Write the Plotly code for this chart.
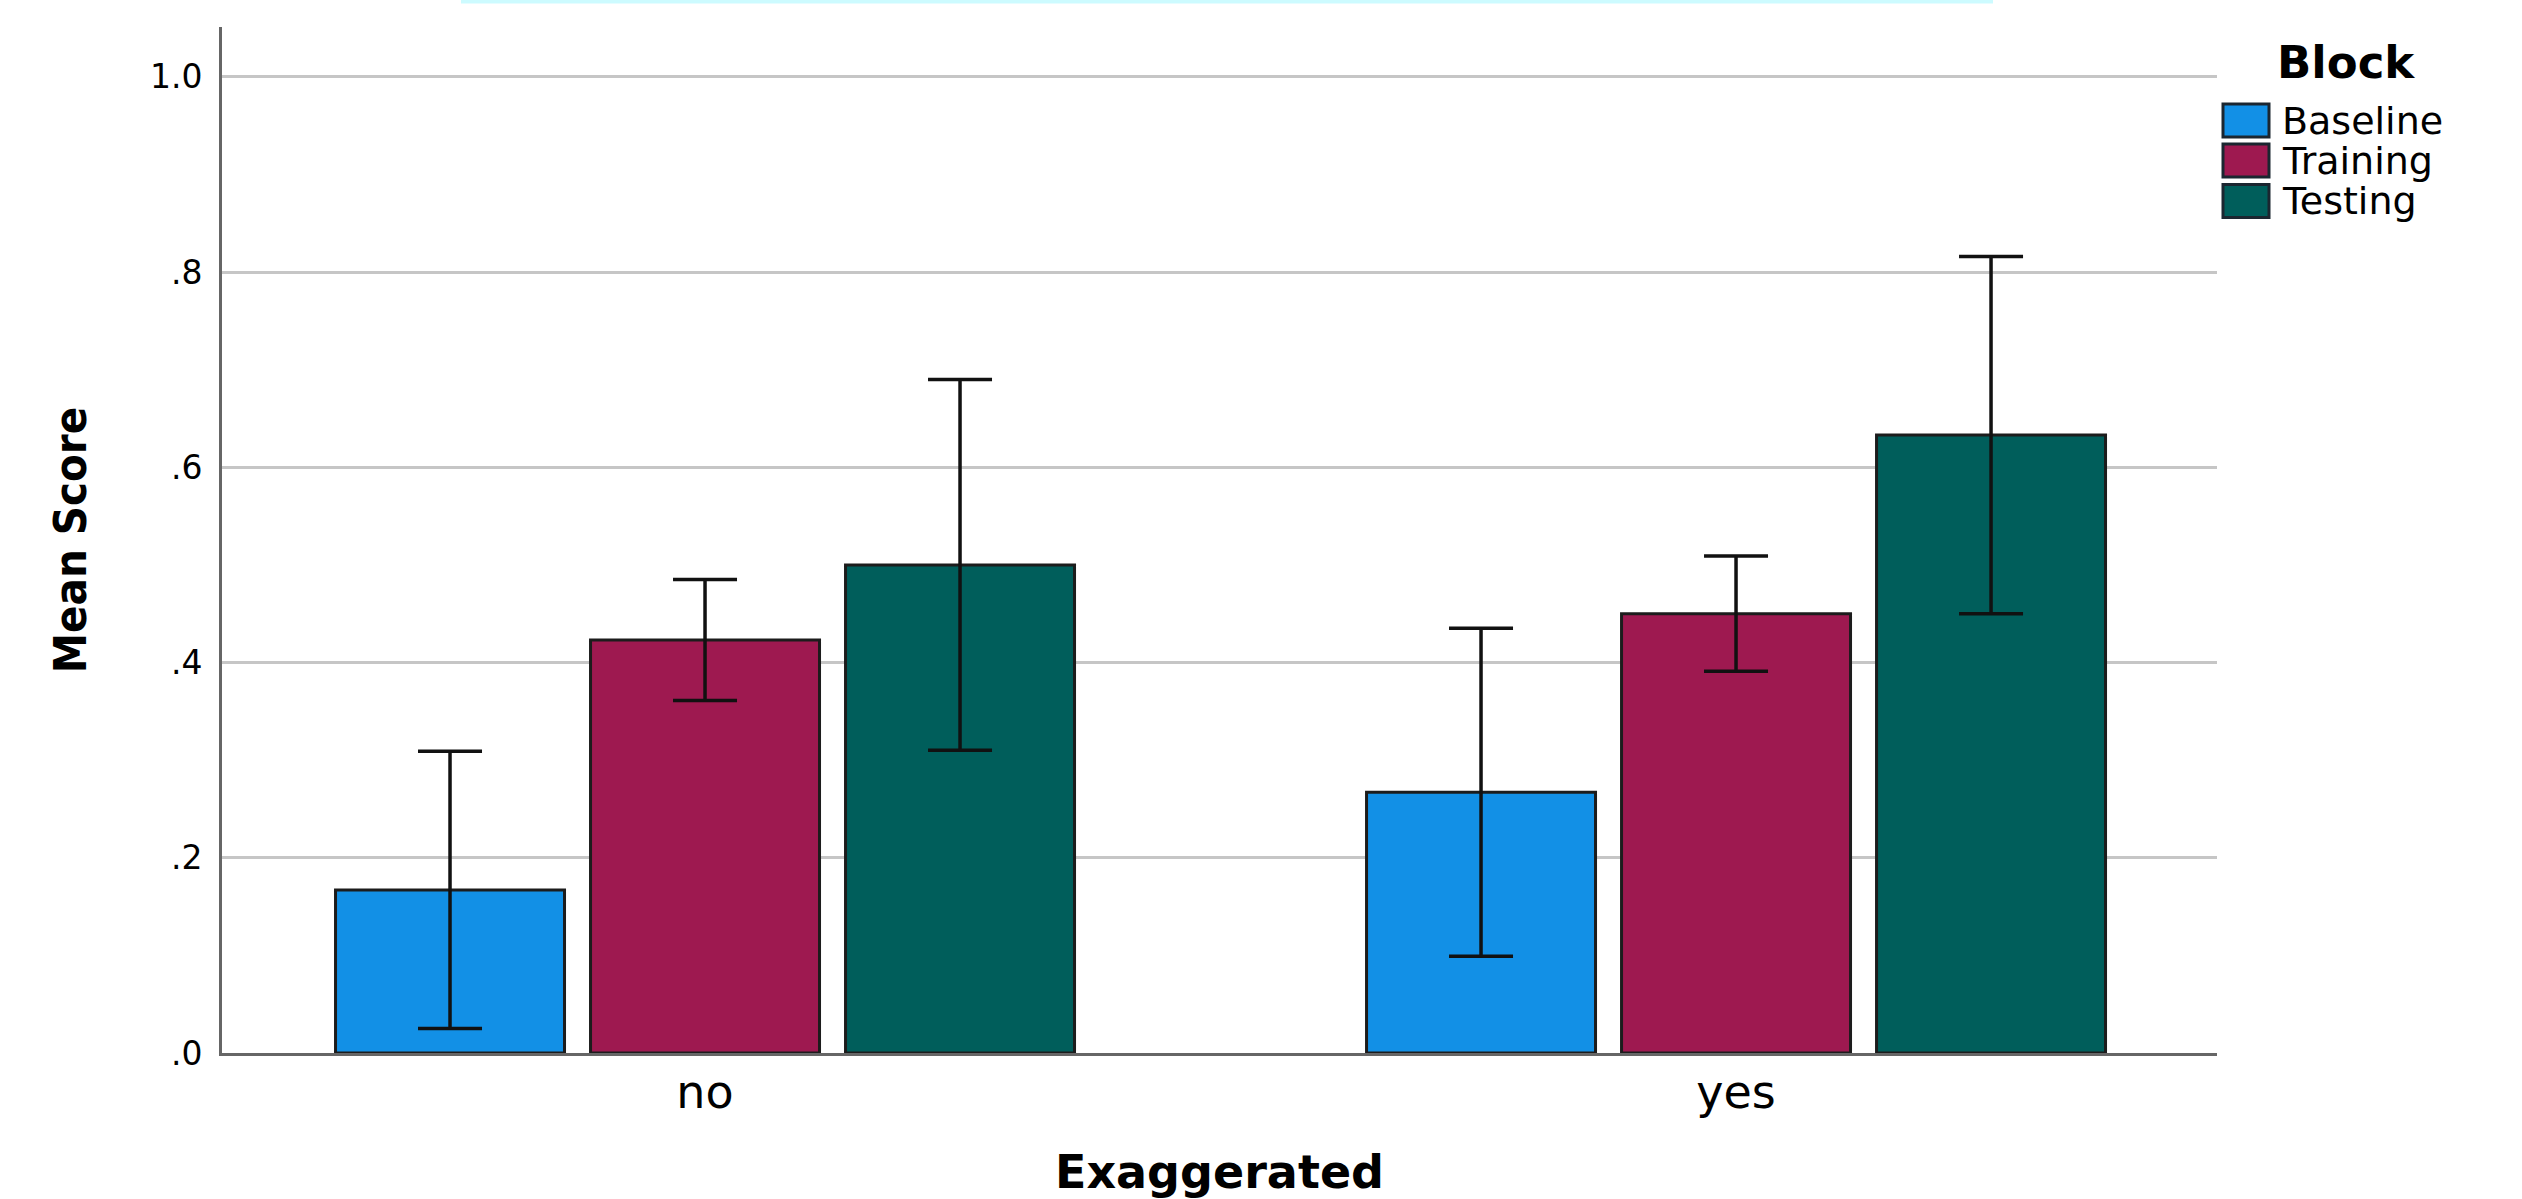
import plotly.graph_objects as go

# ---- data ----
categories = ["no", "yes"]
blocks = ["Baseline", "Training", "Testing"]
baseline_mean = [0.167, 0.267]
baseline_err = [0.142, 0.168]
training_mean = [0.423, 0.450]
training_err = [0.062, 0.059]
testing_mean = [0.500, 0.633]
testing_err = [0.190, 0.183]
colors = ["#1290e6", "#9e1950", "#005e5b"]
y_tickvals = [0, 0.2, 0.4, 0.6, 0.8, 1.0]
y_ticktext = [".0", ".2", ".4", ".6", ".8", "1.0"]

# ---- layout geometry (pixels) ----
W, H = 2522, 1199
ML, MR, MT, MB = 222, 305, 27, 146
PW = W - ML - MR
PH = H - MT - MB


def px(xp):
    return (xp - ML) / PW


def py(yp):
    return (H - MB - yp) / PH


FONT = "DejaVu Sans, Verdana, sans-serif"

fig = go.Figure()
means_all = [baseline_mean, training_mean, testing_mean]
errs_all = [baseline_err, training_err, testing_err]
for name, means, errs, col in zip(blocks, means_all, errs_all, colors):
    fig.add_trace(go.Bar(
        x=categories, y=means, name=name,
        marker=dict(color=col, line=dict(color="#1c1c1c", width=3)),
        error_y=dict(type="data", array=errs, visible=True,
                     color="#111111", thickness=3.5, width=32),
        showlegend=False,
    ))

shapes = []
annotations = []

# faint cyan strip at the very top of the page
shapes.append(dict(type="rect", xref="paper", yref="paper",
                   x0=px(461), x1=px(1993), y0=py(0), y1=py(3.5),
                   fillcolor="#cdfbff", line=dict(width=0), layer="above"))

# custom legend
annotations.append(dict(xref="paper", yref="paper", x=px(2346), y=py(62.5),
                        xanchor="center", yanchor="middle", showarrow=False,
                        text="<b>Block</b>",
                        font=dict(family=FONT, size=45, color="#000000")))
row_centers = [120.5, 160.5, 201]
for name, col, yc in zip(blocks, colors, row_centers):
    shapes.append(dict(type="rect", xref="paper", yref="paper",
                       x0=px(2223), x1=px(2269), y0=py(yc - 16.5), y1=py(yc + 16.5),
                       fillcolor=col, line=dict(color="#1b2630", width=3)))
    annotations.append(dict(xref="paper", yref="paper", x=px(2280), y=py(yc),
                            xanchor="left", yanchor="middle", showarrow=False,
                            text=name,
                            font=dict(family=FONT, size=38, color="#000000")))

fig.update_layout(
    width=W, height=H,
    margin=dict(l=ML, r=MR, t=MT, b=MB, pad=0),
    paper_bgcolor="#ffffff", plot_bgcolor="#ffffff",
    barmode="group", bargap=0.258, bargroupgap=0.102,
    showlegend=False,
    shapes=shapes, annotations=annotations,
    xaxis=dict(
        type="category", range=[-0.4685, 1.4665], automargin=False,
        showline=True, linecolor="#666666", linewidth=3,
        showgrid=False, zeroline=False, ticks="",
        tickfont=dict(family=FONT, size=46, color="#000000"),
        ticklabelstandoff=-3,
        title=dict(text="<b>Exaggerated</b>", standoff=49,
                   font=dict(family=FONT, size=46, color="#000000")),
    ),
    yaxis=dict(
        range=[0, 1.051], automargin=False,
        showline=True, linecolor="#666666", linewidth=3,
        showgrid=True, gridcolor="#c6c6c6", gridwidth=3,
        zeroline=False, ticks="",
        tickvals=y_tickvals, ticktext=y_ticktext,
        tickfont=dict(family=FONT, size=33, color="#000000"),
        ticklabelstandoff=10,
        title=dict(text="<b>Mean Score</b>", standoff=50,
                   font=dict(family="DejaVu Sans Condensed, sans-serif",
                             size=45, color="#000000")),
    ),
)

fig.write_html("out.html",
               config={"displayModeBar": False},
               post_script="document.body.style.margin='0';document.body.style.overflow='hidden';")
